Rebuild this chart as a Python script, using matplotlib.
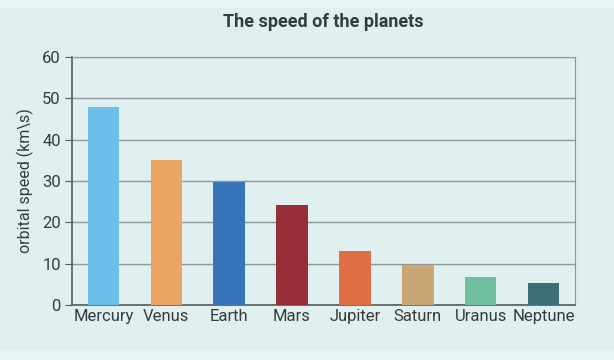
import matplotlib.pyplot as plt
from matplotlib.patches import Rectangle

planets = ['Mercury', 'Venus', 'Earth', 'Mars', 'Jupiter', 'Saturn', 'Uranus', 'Neptune']
speeds = [47.9, 35.0, 29.8, 24.1, 13.1, 9.7, 6.8, 5.4]
colors = ['#6dbfe9', '#eba463', '#3a74b8', '#962e38', '#e06e45', '#c9a673', '#6dbf9f', '#3e6e78']
yticks = [0, 10, 20, 30, 40, 50, 60]

plt.rcParams['font.family'] = ['Roboto', 'DejaVu Sans']

bg = '#e0eff0'
fig = plt.figure(figsize=(6.14, 3.6), dpi=100, facecolor='#e9f4f4')
# inner panel, slightly darker than the outer border
fig.patches.append(Rectangle((0, 10 / 360), 1, 342 / 360, transform=fig.transFigure,
                             facecolor=bg, edgecolor='none', zorder=-5))
ax = fig.add_axes([72 / 614, 1 - 305 / 360, (575 - 72) / 614, (305 - 57) / 360])
ax.set_facecolor(bg)

ax.bar(range(len(planets)), speeds, width=0.5, color=colors, zorder=3)

ax.set_xlim(-0.5, len(planets) - 0.5)
ax.set_ylim(0, 60)
ax.set_yticks(yticks)
ax.set_xticks(range(len(planets)))
ax.set_xticklabels(planets)
ax.yaxis.grid(True, color='#8f9696', linewidth=1.0, zorder=1)

for s in ['top', 'right']:
    ax.spines[s].set_color('#8f9696')
for s in ['left', 'bottom']:
    ax.spines[s].set_color('#555b5b')
    ax.spines[s].set_linewidth(1.2)

ax.tick_params(axis='y', length=5, color='#555b5b', labelsize=12, labelcolor='#363c3c', pad=3)
ax.tick_params(axis='x', length=0, labelsize=12, labelcolor='#363c3c', pad=3)

ax.set_ylabel('orbital speed (km\\s)', fontsize=11.5, color='#363c3c', labelpad=6)
fig.text(323 / 614, 1 - 22 / 360, 'The speed of the planets', ha='center', va='center',
         fontsize=13, fontweight='bold', color='#363c3c')

fig.savefig('out.png', dpi=100, facecolor=fig.get_facecolor())
